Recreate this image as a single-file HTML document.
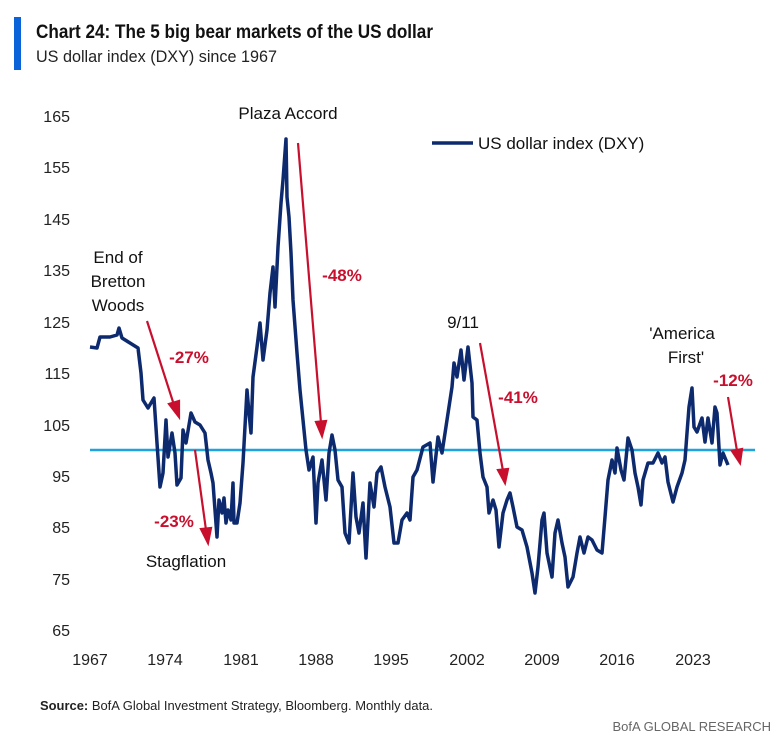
<!DOCTYPE html>
<html><head><meta charset="utf-8"><style>
body{margin:0;background:#fff;width:784px;height:740px;overflow:hidden;font-family:"Liberation Sans",sans-serif}
svg text{font-family:"Liberation Sans",sans-serif}
</style></head><body>
<svg width="784" height="740" xmlns="http://www.w3.org/2000/svg">
<rect x="14" y="17" width="7" height="53" fill="#0a63d8"/>
<text x="36" y="38" font-size="19" font-weight="bold" fill="#111" textLength="397" lengthAdjust="spacingAndGlyphs">Chart 24: The 5 big bear markets of the US dollar</text>
<text x="36" y="62" font-size="17" fill="#222" textLength="241" lengthAdjust="spacingAndGlyphs">US dollar index (DXY) since 1967</text>
<g font-size="16" fill="#222" text-anchor="end">
<text x="70" y="122">165</text><text x="70" y="173">155</text><text x="70" y="225">145</text><text x="70" y="276">135</text><text x="70" y="328">125</text><text x="70" y="379">115</text><text x="70" y="431">105</text><text x="70" y="482">95</text><text x="70" y="533">85</text><text x="70" y="585">75</text><text x="70" y="636">65</text>
</g>
<g font-size="16" fill="#222" text-anchor="middle">
<text x="90" y="665">1967</text><text x="165" y="665">1974</text><text x="241" y="665">1981</text><text x="316" y="665">1988</text><text x="391" y="665">1995</text><text x="467" y="665">2002</text><text x="542" y="665">2009</text><text x="617" y="665">2016</text><text x="693" y="665">2023</text>
</g>
<line x1="90" y1="450" x2="755" y2="450" stroke="#1ea3dd" stroke-width="2.5"/>
<polyline fill="none" stroke="#0d2a6e" stroke-width="3.5" stroke-linejoin="round" points="90,347 97,348 100,337 110,337 117,335 119,328 122,338 130,343 138,348 141,373 143,400 148,408 154,398 157,443 160,487 163,473 166,420 168,457 172,433 175,453 177,485 181,478 183,430 186,443 191,413 195,422 200,425 205,433 208,460 211,473 213,483 217,537 219,500 222,513 224,498 226,523 228,510 231,520 233,483 234,523 237,523 240,503 243,463 247,390 249,413 251,433 253,377 257,347 260,323 263,360 267,330 270,293 273,267 275,307 278,247 281,203 283,180 286,139 287,197 289,217 291,253 293,300 297,353 300,390 303,420 306,450 309,470 313,457 316,523 318,483 322,460 326,500 329,453 332,435 335,450 338,480 342,487 345,533 349,543 353,473 356,517 359,533 363,503 366,558 370,483 374,507 377,473 381,467 385,487 390,507 394,543 398,543 402,520 407,513 410,520 413,477 417,470 423,447 430,443 433,482 438,437 442,453 447,420 452,387 454,363 457,377 461,350 464,380 468,347 472,383 473,417 477,420 480,453 483,477 487,487 489,513 493,500 496,510 499,547 503,513 507,500 510,493 513,507 517,527 522,530 527,547 532,573 535,593 538,567 542,520 544,513 547,553 552,577 555,533 558,520 562,543 565,557 568,587 573,577 577,553 580,537 584,553 588,537 592,540 597,550 602,553 605,517 608,480 612,460 615,473 617,448 621,470 624,480 628,438 632,450 635,473 638,487 641,505 643,480 648,463 653,463 658,453 662,463 665,457 668,482 673,502 677,487 682,473 685,460 687,433 689,407 692,388 694,427 697,432 702,418 705,442 708,418 712,443 715,407 717,413 720,465 723,453 728,465"/>
<g stroke="#c8102e" stroke-width="2.2" fill="#c8102e">
<line x1="147" y1="321" x2="174" y2="405"/><polygon points="179,417 169,404 179,401"/>
<line x1="195" y1="450" x2="206" y2="530"/><polygon points="208,543 201,529 211,528"/>
<line x1="298" y1="143" x2="321" y2="423"/><polygon points="322,436 316,422 326,421"/>
<line x1="480" y1="343" x2="503" y2="471"/><polygon points="505,483 498,470 508,469"/>
<line x1="728" y1="397" x2="737" y2="451"/><polygon points="740,463 732,451 742,449"/>
</g>
<g font-size="17" font-weight="bold" fill="#c8102e" text-anchor="middle">
<text x="189" y="363">-27%</text><text x="174" y="527">-23%</text><text x="342" y="281">-48%</text><text x="518" y="403">-41%</text><text x="733" y="386">-12%</text>
</g>
<g font-size="17" fill="#111" text-anchor="middle">
<text x="118" y="263">End of</text><text x="118" y="287">Bretton</text><text x="118" y="311">Woods</text>
<text x="186" y="567">Stagflation</text>
<text x="288" y="119">Plaza Accord</text>
<text x="463" y="328">9/11</text>
<text x="682" y="339">'America</text><text x="686" y="363">First'</text>
</g>
<line x1="432" y1="143" x2="473" y2="143" stroke="#0d2a6e" stroke-width="3.5"/>
<text x="478" y="149" font-size="17" fill="#111">US dollar index (DXY)</text>
<text x="40" y="710" font-size="13" fill="#222" textLength="393" lengthAdjust="spacingAndGlyphs"><tspan font-weight="bold">Source:</tspan> BofA Global Investment Strategy, Bloomberg. Monthly data.</text>
<text x="771" y="731" font-size="13" fill="#666" text-anchor="end">BofA GLOBAL RESEARCH</text>
</svg>
</body></html>
